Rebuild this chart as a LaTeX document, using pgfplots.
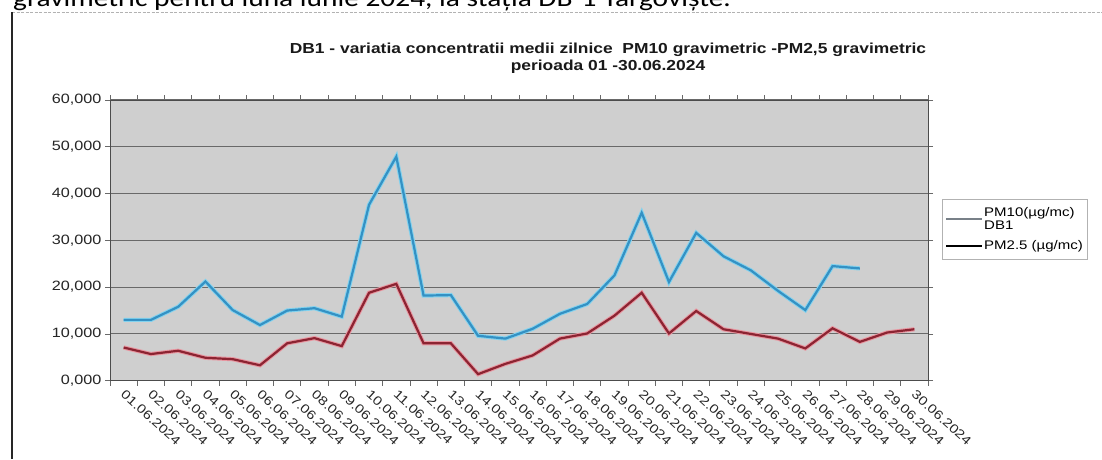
\documentclass[border=0pt]{standalone}
\usepackage{fontspec}
\setmainfont{Liberation Sans}[FakeStretch=1.2]
\newfontfamily\headfont{Carlito}[FakeStretch=1.2]
\usepackage{pgfplots}
\usepackage{pgfplotstable}
\pgfplotsset{compat=1.18}

\definecolor{plotbg}{RGB}{207,207,207}
\definecolor{gridc}{RGB}{105,105,105}
\definecolor{pmtenc}{RGB}{52,145,196}
\definecolor{pmtenhalo}{RGB}{130,210,238}
\definecolor{pmtwoc}{RGB}{140,36,50}
\definecolor{pmtwohalo}{RGB}{232,150,160}
\definecolor{legten}{RGB}{120,128,136}

% daily means, June 2024 (x = day - 0.5)
\pgfplotstableread{
x    pmten  pmtwo
0.5  13.0   7.1
1.5  13.0   5.7
2.5  15.8   6.4
3.5  21.2   4.9
4.5  15.1   4.6
5.5  11.9   3.3
6.5  15.0   8.0
7.5  15.5   9.1
8.5  13.7   7.4
9.5  37.6  18.8
10.5 47.9  20.7
11.5 18.2   8.0
12.5 18.3   8.0
13.5  9.6   1.4
14.5  9.0   3.6
15.5 11.1   5.4
16.5 14.3   9.0
17.5 16.4  10.1
18.5 22.5  13.9
19.5 35.9  18.8
20.5 21.1  10.1
21.5 31.6  14.9
22.5 26.6  11.0
23.5 23.6  10.0
24.5 19.2   9.0
25.5 15.1   6.9
26.5 24.5  11.2
27.5 24.0   8.3
28.5 nan   10.3
29.5 nan   11.0
}\datatable

\begin{document}
\begin{tikzpicture}
\path[use as bounding box, clip] (0pt,0pt) rectangle (1102pt,-459pt);
\fill[white] (0pt,0pt) rectangle (1102pt,-459pt);

% cut-off line of the page text above the chart
\node[anchor=base west, inner sep=0pt, font=\headfont\fontsize{24.5}{26}\selectfont]
  at (13pt,-6.5pt) {gravimetric pentru luna iunie 2024, la stația DB-1 Târgoviște.};
\draw[gray!60, dash pattern=on 3pt off 1.5pt, line width=0.8pt] (12pt,-12pt) -- (1102pt,-12pt);
\draw[black!85, line width=1.3pt] (12pt,-12pt) -- (12pt,-459pt);

\node[font=\bfseries\fontsize{14.5}{17}\selectfont, align=center, text=black!90]
  at (608pt,-58pt) {DB1 - variatia concentratii medii zilnice\ \ PM10 gravimetric -PM2,5 gravimetric\\perioada 01 -30.06.2024};

\begin{axis}[
    at={(110pt,-380.7pt)}, anchor=south west,
    scale only axis,
    width=818pt, height=280.7pt,
    xmin=0, xmax=30,
    ymin=0, ymax=60,
    xtick={0,...,30},
    x tick label as interval,
    xticklabels={01.06.2024,02.06.2024,03.06.2024,04.06.2024,05.06.2024,06.06.2024,07.06.2024,08.06.2024,09.06.2024,10.06.2024,11.06.2024,12.06.2024,13.06.2024,14.06.2024,15.06.2024,16.06.2024,17.06.2024,18.06.2024,19.06.2024,20.06.2024,21.06.2024,22.06.2024,23.06.2024,24.06.2024,25.06.2024,26.06.2024,27.06.2024,28.06.2024,29.06.2024,30.06.2024},
    ytick={0,10,...,60},
    tick align=outside,
    major tick length=5pt,
    tick style={gridc, line width=0.8pt},
    axis background/.style={fill=plotbg},
    axis line style={black!70, line width=0.9pt},
    ymajorgrids,
    grid style={gridc, line width=1.1pt},
    xticklabel style={rotate=-42, anchor=north west, inner sep=1pt, xshift=3pt,
        font=\fontsize{12.5}{14}\selectfont, text=black!85},
    yticklabel style={font=\fontsize{13.5}{15}\selectfont, text=black!85,
        /pgf/number format/.cd, fixed, fixed zerofill, precision=3,
        use comma, 1000 sep={}, assume math mode=true},
    legend style={at={(1.0171,0.6473)}, anchor=north west,
        draw=gray!60, fill=white, inner xsep=3pt, inner ysep=7pt,
        font=\fontsize{12.5}{13.5}\selectfont, row sep=7pt,
        nodes={align=left, inner sep=1pt}},
    legend cell align=left,
    legend image code/.code={\draw[#1] (0pt,0pt) -- (36pt,0pt);},
]
\addplot[pmtenhalo, line width=4.2pt, forget plot] table[x=x, y=pmten] {\datatable};
\addplot[pmtenc, line width=2.2pt, legend image post style={draw=legten, line width=1.6pt}]
    table[x=x, y=pmten] {\datatable};
\addlegendentry{PM10(µg/mc)\\DB1}
\addplot[pmtwohalo, line width=4.2pt, forget plot] table[x=x, y=pmtwo] {\datatable};
\addplot[pmtwoc, line width=2.2pt, legend image post style={draw=black, line width=2pt}]
    table[x=x, y=pmtwo] {\datatable};
\addlegendentry{PM2.5 (µg/mc)}
\end{axis}
\end{tikzpicture}
\end{document}
